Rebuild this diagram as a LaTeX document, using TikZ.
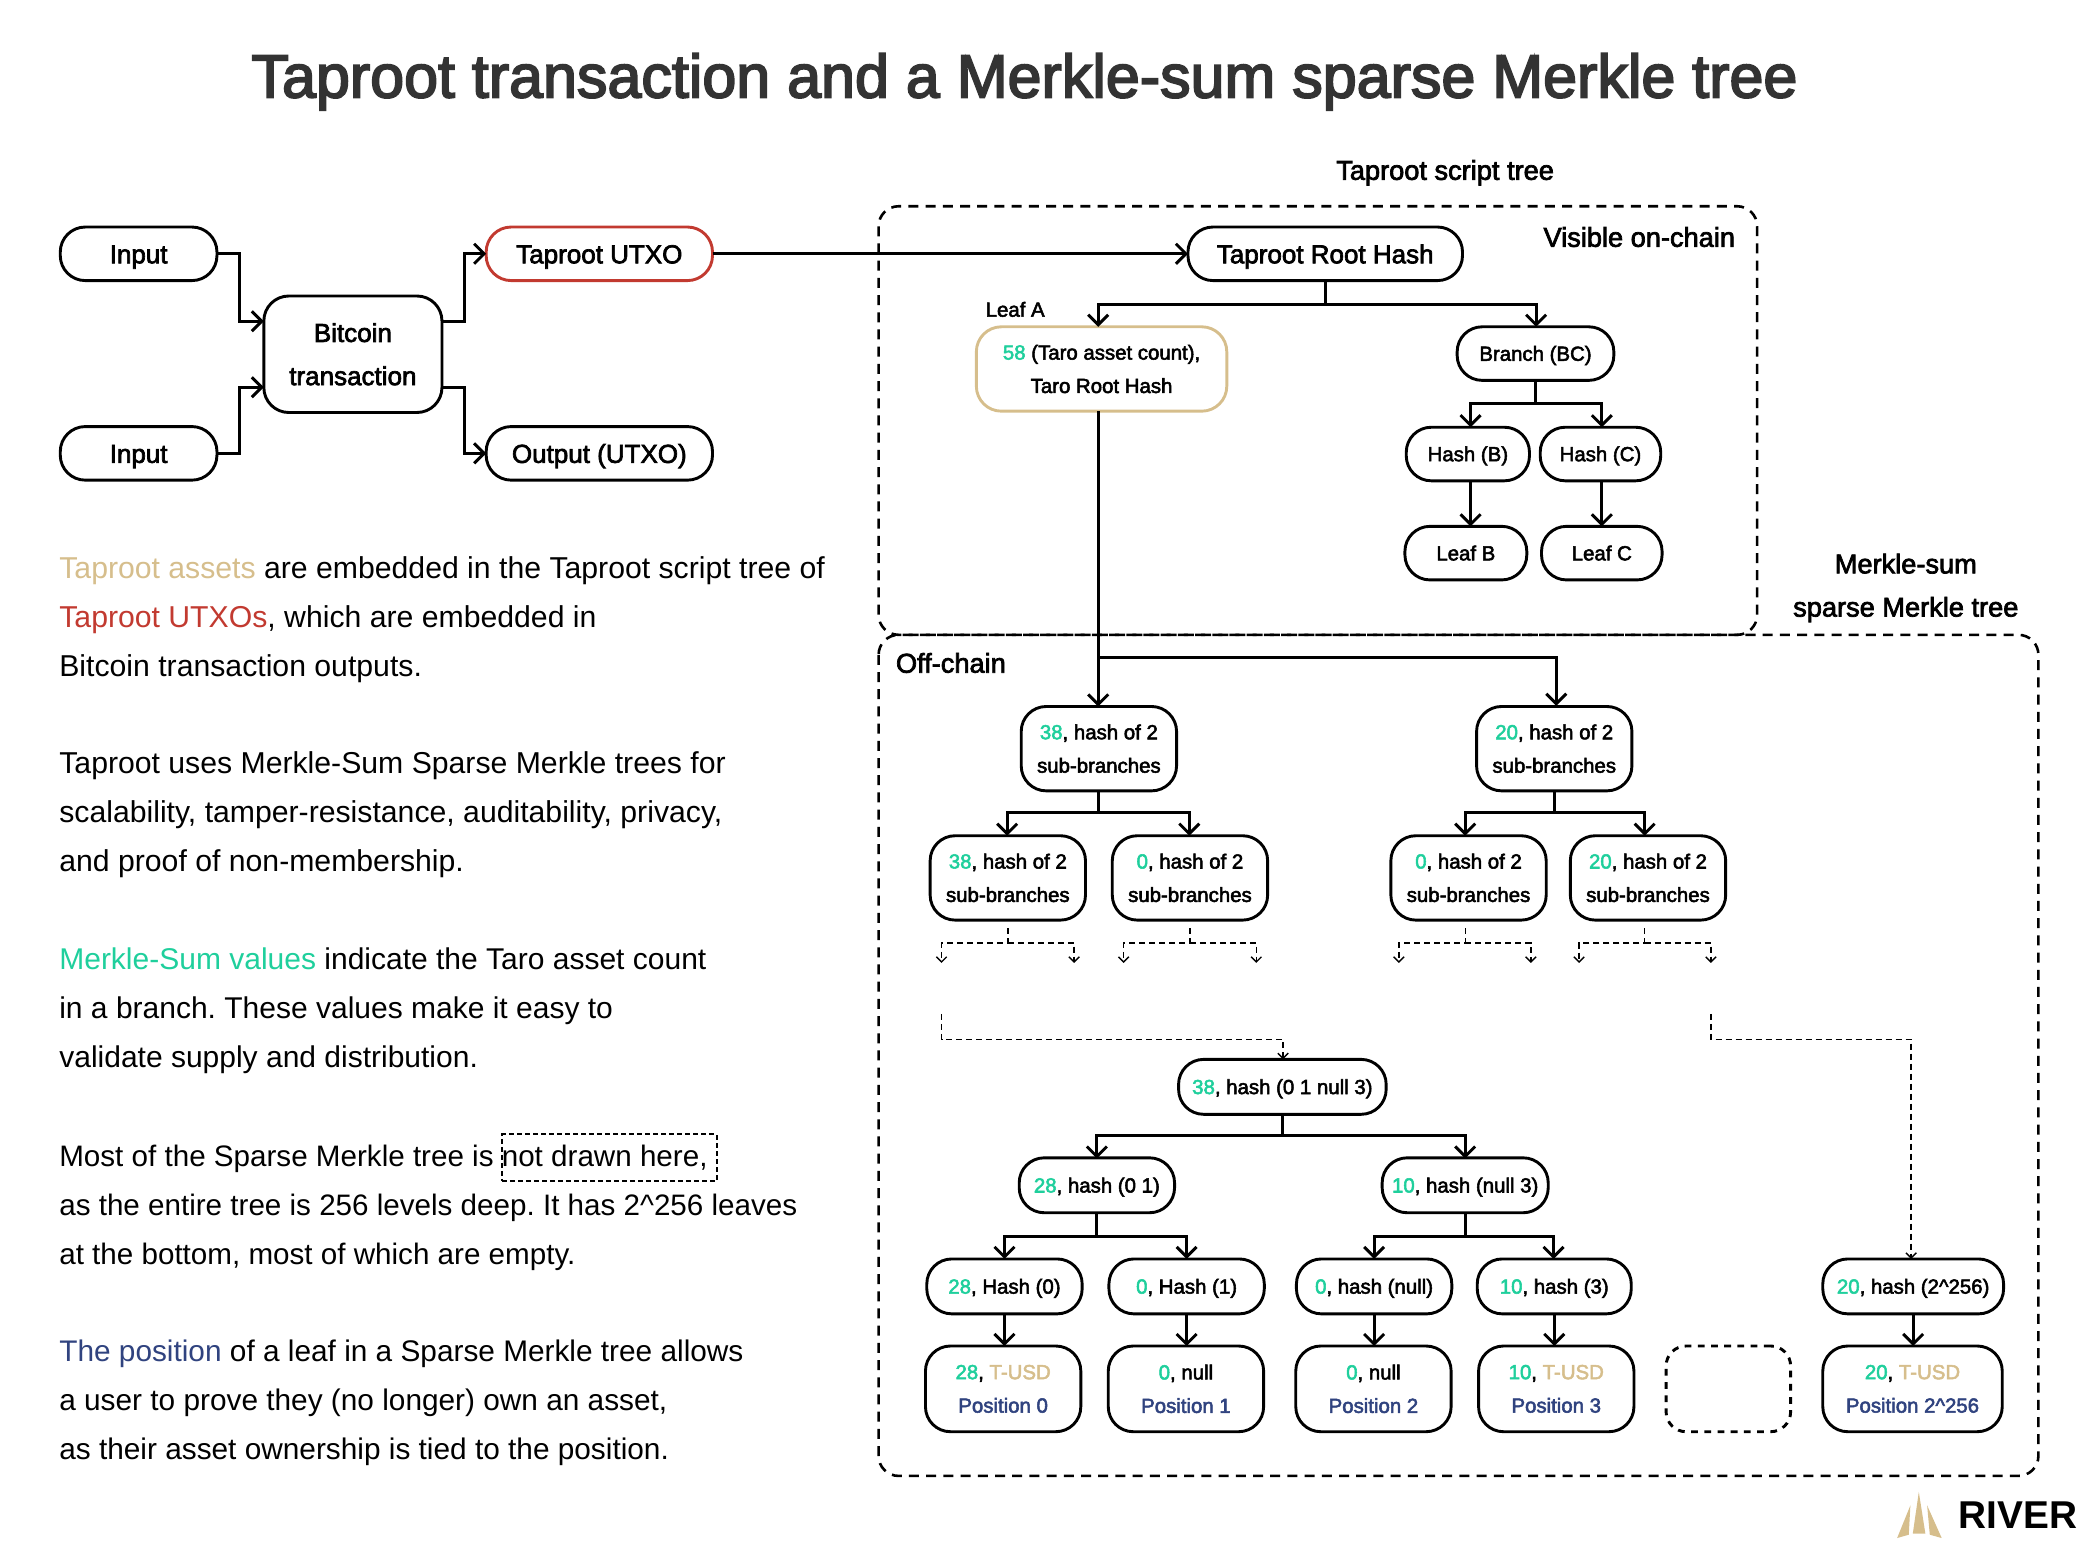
\documentclass[tikz,border=0pt]{standalone}
\usepackage{fontspec}
\setmainfont{Liberation Sans}
\newfontfamily\medfont[FakeBold=2.6]{Liberation Sans}
\newfontfamily\headfont[FakeBold=3]{Liberation Sans}
\usetikzlibrary{arrows.meta}
\frenchspacing
\definecolor{titlegray}{HTML}{333333}
\definecolor{tantxt}{HTML}{D6BE8C}
\definecolor{redtxt}{HTML}{C23A30}
\definecolor{greentxt}{HTML}{1FCF9C}
\definecolor{navytxt}{HTML}{30437F}
\newcommand\gn[1]{\textcolor{greentxt}{#1}}
\newcommand\tn[1]{\textcolor{tantxt}{#1}}
\newcommand\rd[1]{\textcolor{redtxt}{#1}}
\newcommand\nv[1]{\textcolor{navytxt}{#1}}
% fork from a parent: down by #3, across and into the child
\def\fork#1#2#3{\draw[link] (#1.south) -- ++(0,#3) -| (#2);}
\def\thin#1#2#3{\draw[thinlink] (#1,693) -- (#1,704) -| (#2,719);
  \draw[thinlink] (#1,704) -| (#3,719);}
\tikzset{
  box/.style={draw, line width=1.45pt, rounded corners=12.5pt, inner sep=0pt, outer sep=0pt, align=center,
    font=\medfont\fontsize{10.2}{16.7}\selectfont},
  oneline/.style={text height=9.4pt, text depth=2.2pt},
  big/.style={box, font=\medfont\fontsize{13}{21.6}\selectfont},
  bigone/.style={big, text height=12pt, text depth=2.5pt},
  wh/.style 2 args={minimum width=#1*0.6696pt, minimum height=#2*0.6696pt},
  branch/.style={box, wh={116}{63}},
  small/.style={box, oneline, wh={116}{41}},
  posbox/.style={box, wh={116}{64}},
  link/.style={line width=1.45pt, -{Straight Barb[length=5pt,width=10pt,line width=1.45pt]}},
  thinlink/.style={line width=0.7pt, densely dashed, -{Straight Barb[length=2.6pt,width=5.2pt,line width=0.7pt]}},
  frame/.style={line width=1.3pt, dash pattern=on 5pt off 3.6pt, rounded corners=10pt},
  label/.style={inner sep=0pt, font=\medfont\fontsize{13.6}{21.6}\selectfont, align=center},
  para/.style={inner sep=0pt, anchor=west, align=left, font=\fontsize{#1}{24.5}\selectfont},
  para/.default=15.1,
}
\begin{document}
\begin{tikzpicture}[x=0.6696pt,y=-0.6696pt]
\useasboundingbox (0,0) rectangle (1568,1157.5);

\node[inner sep=0pt, text=titlegray, font=\headfont\fontsize{30.5}{36}\selectfont] (title) at (765,61) {Taproot transaction and a Merkle-sum sparse Merkle tree};

% Frames:
\draw[frame] (656,154) rectangle (1312,474);
\draw[frame] (656,474) rectangle (1522,1102);
\node[label] (scripttree) at (1079,129) {Taproot script tree};
\node[label] (visible) at (1224,177) {Visible on-chain};
\node[label] (offchain) at (710,495) {Off-chain};
\node[label] (sumtree) at (1423,439) {Merkle-sum\\sparse Merkle tree};

% Transaction:
\node[bigone, wh={117}{40}] (inputa) at (103.5,189.5) {Input};
\node[bigone, wh={117}{40}] (inputb) at (103.5,338.5) {Input};
\node[big, wh={133}{87}] (btx) at (263.5,264.5) {Bitcoin\\transaction};
\node[bigone, wh={169}{40}, draw=redtxt] (utxo) at (447.5,189.5) {Taproot UTXO};
\node[bigone, wh={169}{40}] (output) at (447.5,338.5) {Output (UTXO)};

\draw[link] (inputa.east) -- ++(17,0) |- ([yshift=16.5pt]btx.west);
\draw[link] (inputb.east) -- ++(17,0) |- ([yshift=-16.5pt]btx.west);
\draw[link] ([yshift=16.5pt]btx.east) -- ++(17,0) |- (utxo.west);
\draw[link] ([yshift=-16.5pt]btx.east) -- ++(17,0) |- (output.west);

% Script tree:
\node[bigone, wh={205}{40}] (root) at (989.5,189.5) {Taproot Root Hash};
\node[box, wh={187}{63}, draw=tantxt] (leafa) at (822.5,275.5) {\gn{58} (Taro asset count),\\Taro Root Hash};
\node[label, font=\medfont\fontsize{10.2}{12}\selectfont] (leafalabel) at (758,231) {Leaf A};
\node[box, oneline, wh={117}{40}] (bc) at (1146.5,264) {Branch (BC)};
\node[box, oneline, wh={92}{40}] (hashb) at (1096,339) {Hash (B)};
\node[box, oneline, wh={90}{40}] (hashc) at (1195,339) {Hash (C)};
\node[box, oneline, wh={91}{40}] (leafb) at (1094.5,413) {Leaf B};
\node[box, oneline, wh={90}{40}] (leafc) at (1196,413) {Leaf C};

\draw[link] (utxo.east) -- (root.west);
\fork{root}{820,244}{18}
\fork{root}{1147,244}{18}
\fork{bc}{1098,319}{17}
\fork{bc}{1196,319}{17}
\draw[link] (hashb.south -| 1098,0) -- (leafb.north -| 1098,0);
\draw[link] (hashc.south -| 1196,0) -- (leafc.north -| 1196,0);

% Sum tree, upper part:
\node[branch] (nl) at (820.5,559) {\gn{38}, hash of 2\\sub-branches};
\node[branch] (nr) at (1160.5,559) {\gn{20}, hash of 2\\sub-branches};
\node[branch] (nla) at (752.5,655.5) {\gn{38}, hash of 2\\sub-branches};
\node[branch] (nlb) at (888.5,655.5) {\gn{0}, hash of 2\\sub-branches};
\node[branch] (nra) at (1096.5,655.5) {\gn{0}, hash of 2\\sub-branches};
\node[branch] (nrb) at (1230.5,655.5) {\gn{20}, hash of 2\\sub-branches};

\draw[link] (leafa.south -| 820,0) -- (nl.north -| 820,0);
\draw[link] (820,491) -| (1162,527);
\fork{nl}{752,624}{16}
\fork{nl}{888,624}{16}
\fork{nr}{1094,624}{16}
\fork{nr}{1228,624}{16}

\thin{752.5}{703}{802}
\thin{888.5}{839}{938}
\thin{1094}{1044.5}{1143}
\thin{1228}{1179}{1277.5}

% Sum tree, lower part:
\node[small, wh={155}{41}] (sumroot) at (957.5,811.5) {\gn{38}, hash (0 1 null 3)};
\node[small] (sa) at (819,885) {\gn{28}, hash (0 1)};
\node[small, wh={124}{41}] (sb) at (1094,885) {\gn{10}, hash (null 3)};
\node[small] (ha) at (750,960.5) {\gn{28}, Hash (0)};
\node[small] (hb) at (886,960.5) {\gn{0}, Hash (1)};
\node[small] (hc) at (1026,960.5) {\gn{0}, hash (null)};
\node[small, wh={115}{41}] (hd) at (1160.5,960.5) {\gn{10}, hash (3)};
\node[small, wh={135}{41}] (hz) at (1428.5,960.5) {\gn{20}, hash (2\textasciicircum 256)};
\node[posbox] (pa) at (749,1037) {\gn{28}, \tn{T-USD}\\\nv{Position 0}};
\node[posbox] (pb) at (885.5,1037) {\gn{0}, null\\\nv{Position 1}};
\node[posbox] (pc) at (1025.5,1037) {\gn{0}, null\\\nv{Position 2}};
\node[posbox] (pd) at (1162,1037) {\gn{10}, \tn{T-USD}\\\nv{Position 3}};
\node[box, wh={93}{64}, dash pattern=on 3.4pt off 3.2pt, rounded corners=10pt] (pblank) at (1290.5,1037) {};
\node[posbox, wh={134}{64}] (pz) at (1428,1037) {\gn{20}, \tn{T-USD}\\\nv{Position 2\textasciicircum 256}};

\draw[thinlink] (703,757) -- (703,776) -| (958,791);
\draw[thinlink] (1277.5,757) -- (1277.5,776) -| (1427,940);

\fork{sumroot}{819,865}{16}
\fork{sumroot}{1094,865}{16}
\fork{sa}{750,940}{18}
\fork{sa}{886,940}{18}
\fork{sb}{1026,940}{18}
\fork{sb}{1160,940}{18}
\draw[link] (ha.south) -- (ha.south |- pa.north);
\draw[link] (hb.south) -- (hb.south |- pb.north);
\draw[link] (hc.south) -- (hc.south |- pc.north);
\draw[link] (hd.south) -- (hd.south |- pd.north);
\draw[link] (hz.south) -- (hz.south |- pz.north);

% Text on the left:
\node[para] (parta) at (44,462.5) {\tn{Taproot assets} are embedded in the Taproot script tree of\\\rd{Taproot UTXOs}, which are embedded in\\Bitcoin transaction outputs.};
\node[para] (partb) at (44,608.5) {Taproot uses Merkle-Sum Sparse Merkle trees for\\scalability, tamper-resistance, auditability, privacy,\\and proof of non-membership.};
\node[para=15] (partc) at (44,755) {\gn{Merkle-Sum values} indicate the Taro asset count\\in a branch. These values make it easy to\\validate supply and distribution.};
\node[para=14.8] (partd) at (44,901.5) {Most of the Sparse Merkle tree is not drawn here,\\as the entire tree is 256 levels deep. It has 2\textasciicircum 256 leaves\\at the bottom, most of which are empty.};
\node[para=14.9] (parte) at (44,1047.5) {\nv{The position} of a leaf in a Sparse Merkle tree allows\\a user to prove they (no longer) own an asset,\\as their asset ownership is tied to the position.};
\node[draw, line width=1pt, dash pattern=on 2.4pt off 1.6pt, wh={160}{35}, inner sep=0pt] (notdrawn) at (455,864.5) {};

% Logo:
\fill[tantxt] (1432.7,1114) -- (1428.2,1145.1) -- (1437.6,1145.1) -- cycle;
\fill[tantxt] (1426.4,1124) -- (1416.5,1148.4) -- (1425.2,1145.9) -- cycle;
\fill[tantxt] (1438.9,1124) -- (1449.8,1148.4) -- (1440.9,1145.9) -- cycle;
\node[inner sep=0pt, anchor=west, font=\bfseries\fontsize{19.4}{24}\selectfont] (river) at (1462,1131) {RIVER};
\end{tikzpicture}
\end{document}
